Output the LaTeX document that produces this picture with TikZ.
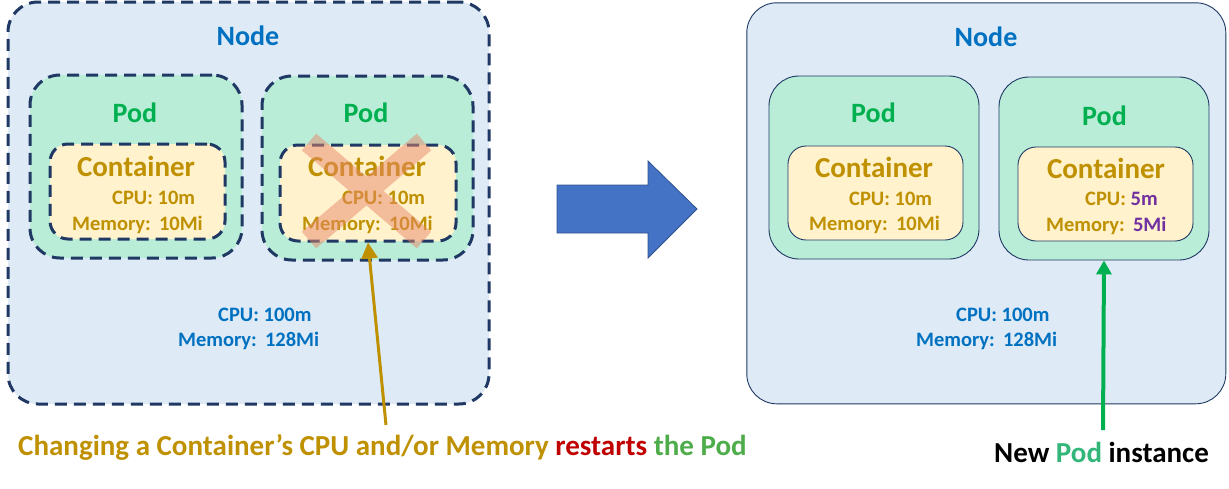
\documentclass[tikz,border=0pt]{standalone}
\usepackage{fontspec}
\setmainfont{Carlito}
\usetikzlibrary{arrows.meta}
\definecolor{nodefill}{HTML}{DEEBF7}
\definecolor{podfill}{HTML}{B9EDD7}
\definecolor{contfill}{HTML}{FFF2CC}
\definecolor{navy}{HTML}{1F3864}
\definecolor{nodeblue}{HTML}{0070C0}
\definecolor{podgreen}{HTML}{00B050}
\definecolor{gold}{HTML}{BF9000}
\definecolor{purp}{HTML}{7030A0}
\definecolor{redc}{HTML}{C00000}
\definecolor{thepod}{HTML}{4EAD4A}
\definecolor{newpod}{HTML}{33B679}
\definecolor{bigarrow}{HTML}{4472C4}
\definecolor{bigarrowline}{HTML}{2F528F}
\definecolor{xcol}{HTML}{E8876A}
\begin{document}
\begin{tikzpicture}[x=1pt,y=-1pt,
  box/.style={rectangle, inner sep=0pt},
  dashbox/.style={box, draw=navy, line width=3pt, dash pattern=on 12pt off 7pt},
  solidbox/.style={box, draw=navy, line width=0.9pt},
  nodebox/.style={fill=nodefill, rounded corners=30pt},
  podbox/.style={fill=podfill, rounded corners=30pt},
  contbox/.style={fill=contfill, rounded corners=18pt},
  nodetitle/.style={text=nodeblue, font=\bfseries\fontsize{28}{30}\selectfont, anchor=base, inner sep=0pt},
  podtitle/.style={text=podgreen, font=\bfseries\fontsize{28}{30}\selectfont, anchor=base, inner sep=0pt},
  conttitle/.style={text=gold, font=\bfseries\fontsize{29}{31}\selectfont, anchor=base, inner sep=0pt},
  res/.style={text=gold, font=\bfseries\fontsize{20.5}{22}\selectfont, anchor=base west, inner sep=0pt},
  nres/.style={text=nodeblue, font=\bfseries\fontsize{20.5}{22}\selectfont, anchor=base west, inner sep=0pt},
  caption/.style={font=\bfseries\fontsize{29}{31}\selectfont, anchor=base west, inner sep=0pt},
  goldarrow/.style={draw=gold, line width=3pt, -{Triangle[length=16pt,width=16pt]}},
  greenarrow/.style={draw=podgreen, line width=4pt, -{Triangle[length=14pt,width=15pt]}},
  xbar/.style={draw=xcol, line width=22pt, draw opacity=0.5}
]
\useasboundingbox (0,0) rectangle (1229,488);

% ---------- left node ----------
\node[dashbox, nodebox, minimum width=481pt, minimum height=402pt] (LN) at (248.5,203) {};
\node[dashbox, podbox, minimum width=212pt, minimum height=183pt] (LP1) at (136,166.5) {};
\node[dashbox, podbox, minimum width=211pt, minimum height=184pt] (LP2) at (367.5,168) {};
\node[dashbox, contbox, minimum width=175pt, minimum height=95pt] (LC1) at (137.5,191.5) {};
\node[dashbox, contbox, minimum width=176pt, minimum height=96pt] (LC2) at (368,193) {};

\node[nodetitle] (LNt) at (248,45) {Node};
\node[podtitle] (LP1t) at (135,122) {Pod};
\node[podtitle] (LP2t) at (366,122) {Pod};
\node[conttitle] (LC1t) at (136,176.5) {Container};
\node[conttitle] (LC2t) at (367,176.5) {Container};
\node[res] (LC1a) at (112,204.5) {CPU: 10m};
\node[res] (LC1b) at (72,230.5) {Memory:\hspace{2pt} 10Mi};
\node[res] (LC2a) at (342,204.5) {CPU: 10m};
\node[res] (LC2b) at (302,230.5) {Memory:\hspace{2pt} 10Mi};
\node[nres] (LNa) at (218,321) {CPU: 100m};
\node[nres] (LNb) at (178,346) {Memory:\hspace{2pt} 128Mi};

% cross over the restarted container
\draw[xbar] (309,142) -- (424,240) (424,142) -- (309,240);

% ---------- big arrow ----------
\draw[fill=bigarrow, draw=bigarrowline, line width=0.8pt]
  (557,185) -- (648,185) -- (648,161) -- (697,209) -- (648,258) -- (648,233) -- (557,233) -- cycle;

% ---------- right node ----------
\node[solidbox, nodebox, minimum width=479pt, minimum height=401pt] (RN) at (986.3,203.3) {};
\node[solidbox, podbox, minimum width=210pt, minimum height=183pt] (RP1) at (874,167.5) {};
\node[solidbox, podbox, minimum width=210pt, minimum height=183pt] (RP2) at (1104,168.5) {};
\node[solidbox, contbox, minimum width=175pt, minimum height=94pt] (RC1) at (875.5,193) {};
\node[solidbox, contbox, minimum width=175pt, minimum height=94pt] (RC2) at (1105.5,194) {};

\node[nodetitle] (RNt) at (986,46) {Node};
\node[podtitle] (RP1t) at (873.5,122) {Pod};
\node[podtitle] (RP2t) at (1104.5,125) {Pod};
\node[conttitle] (RC1t) at (874,177.5) {Container};
\node[conttitle] (RC2t) at (1106,178.5) {Container};
\node[res] (RC1a) at (849,205.5) {CPU: 10m};
\node[res] (RC1b) at (809,230.5) {Memory:\hspace{2pt} 10Mi};
\node[res] (RC2a) at (1085,205.5) {CPU: \textcolor{purp}{5m}};
\node[res] (RC2b) at (1046,231.5) {Memory:\hspace{2pt} \textcolor{purp}{5Mi}};
\node[nres] (RNa) at (956,321) {CPU: 100m};
\node[nres] (RNb) at (916,346) {Memory:\hspace{2pt} 128Mi};

% ---------- callouts ----------
\coordinate (goldfrom) at (386,425);
\draw[goldarrow] (goldfrom) -- (LC2.south);
\node[caption, text=gold] (cap1) at (18,455)
  {Changing a Container’s CPU and/or Memory \textcolor{redc}{restarts} \textcolor{thepod}{the Pod}};

\coordinate (greenfrom) at (1103,430);
\draw[greenarrow] (greenfrom) -- (RP2.south);
\node[caption, text=black] (cap2) at (994,462)
  {New \textcolor{newpod}{Pod} instance};
\end{tikzpicture}
\end{document}
